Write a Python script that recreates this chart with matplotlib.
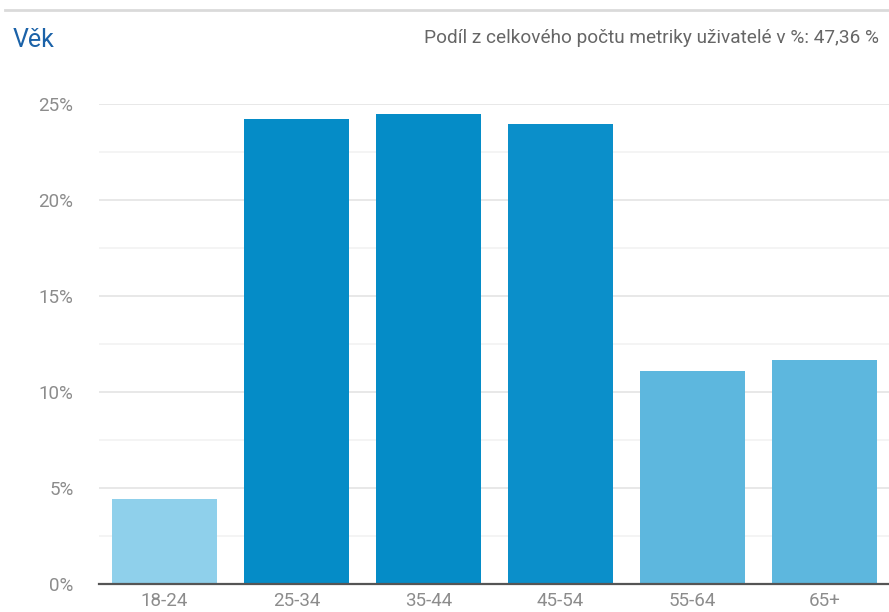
import matplotlib
matplotlib.use("Agg")
import matplotlib.pyplot as plt
from matplotlib.lines import Line2D
from matplotlib.ticker import MultipleLocator, FuncFormatter

plt.rcParams['font.family'] = ['Roboto', 'DejaVu Sans']

# Age groups and their share of users (%)
age_groups = ["18-24", "25-34", "35-44", "45-54", "55-64", "65+"]
share = [4.43, 24.22, 24.48, 23.96, 11.09, 11.67]
bar_colors = ["#8fd0eb", "#058cc7", "#058cc7", "#0b8fca", "#5db7de", "#5db7de"]

title = "Věk"
summary = "Podíl z celkového počtu metriky uživatelé v %: 47,36 %"

fig = plt.figure(figsize=(8.89, 6.12), dpi=100)
ax = fig.add_axes([98.5 / 889, 0.0458, 792 / 889, 0.7843])

x = range(len(age_groups))
ax.bar(x, share, width=0.8, color=bar_colors, zorder=3)

ax.set_xlim(-0.5, len(age_groups) - 0.5)
ax.set_ylim(0, 25)
ax.yaxis.set_major_locator(MultipleLocator(5))
ax.yaxis.set_minor_locator(MultipleLocator(2.5))
ax.yaxis.set_major_formatter(FuncFormatter(lambda v, _: f"{v:.0f}%"))
ax.grid(axis="y", which="major", color="#e4e4e4", linewidth=1.2, zorder=0)
ax.grid(axis="y", which="minor", color="#f2f2f2", linewidth=1.2, zorder=0)
ax.set_xticks(list(x))
ax.set_xticklabels(age_groups)

for side in ["top", "right", "left"]:
    ax.spines[side].set_visible(False)
ax.spines["bottom"].set_color("#555555")
ax.spines["bottom"].set_linewidth(1.6)
ax.spines["bottom"].set_zorder(4)

ax.tick_params(axis="both", which="both", length=0, labelsize=13.5, labelcolor="#8c8c8c")
ax.tick_params(axis="y", pad=18)
ax.tick_params(axis="x", pad=5.5)
for lbl in ax.get_yticklabels():
    lbl.set_clip_on(False)

# header separator and texts
fig.add_artist(Line2D([5 / 889, 1.0], [1 - 10 / 612, 1 - 10 / 612],
                      color="#dadada", linewidth=2, transform=fig.transFigure))
fig.text(13 / 889, 1 - 40 / 612, title, color="#1b62a8", fontsize=18,
         ha="left", va="center")
fig.text(879 / 889, 1 - 38 / 612, summary, color="#666666", fontsize=13.7,
         ha="right", va="center")

fig.savefig("out.png", dpi=100)
